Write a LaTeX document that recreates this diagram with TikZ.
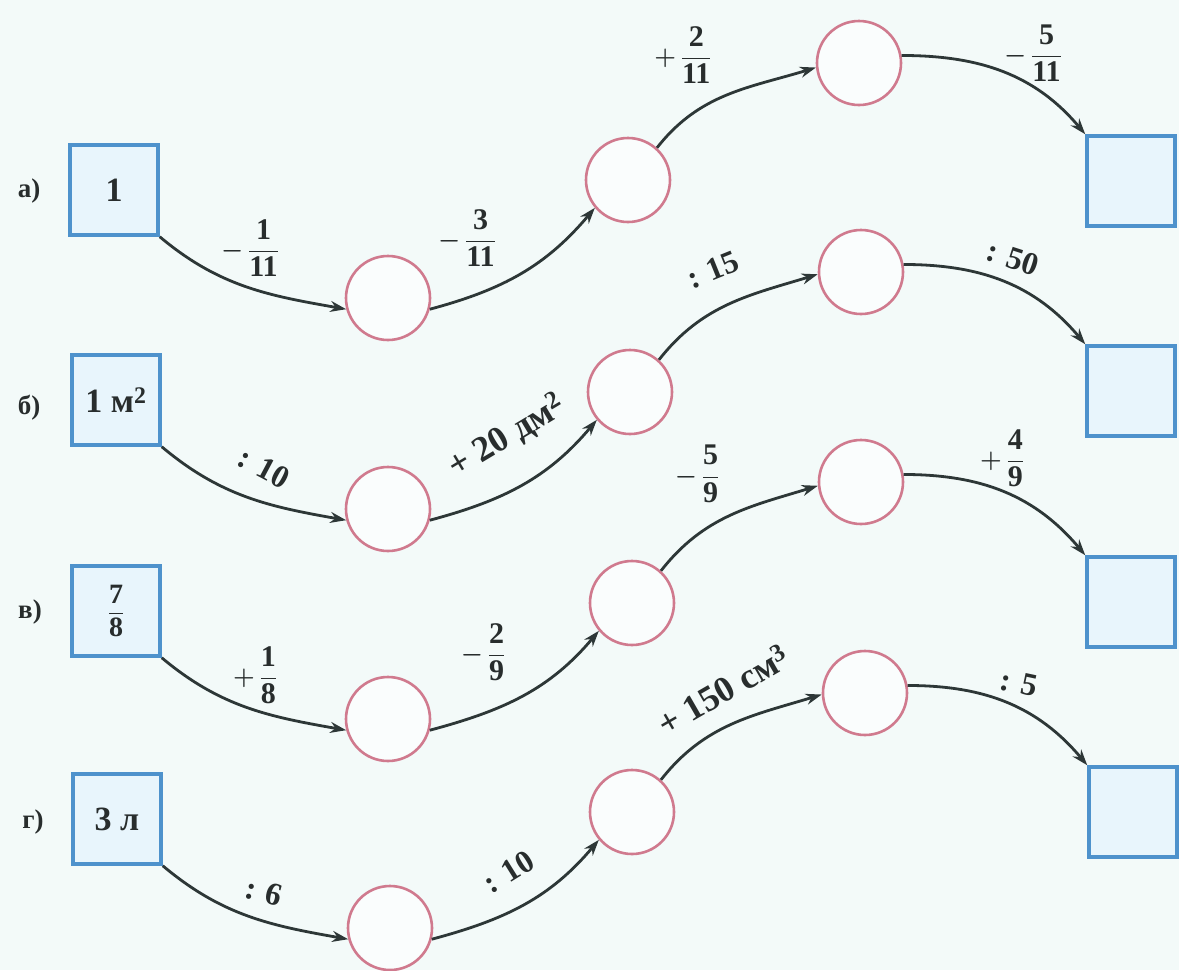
\documentclass[tikz,border=0pt]{standalone}
\usepackage{fontspec}
\setmainfont{Liberation Serif}
\usepackage{amsmath}
\usetikzlibrary{arrows.meta}
\definecolor{bgc}{RGB}{243,250,249}
\definecolor{boxblue}{RGB}{78,146,204}
\definecolor{boxfill}{RGB}{232,245,252}
\definecolor{circpink}{RGB}{208,122,142}
\definecolor{arrowc}{RGB}{45,55,55}
\definecolor{txt}{RGB}{40,45,45}
\begin{document}
\begin{tikzpicture}[x=1pt,y=1pt,
  startbox/.style={draw=boxblue, line width=3.5pt, fill=boxfill, minimum width=88pt, minimum height=90pt, inner sep=0pt, text=txt, font=\bfseries\fontsize{34}{38}\selectfont},
  circ/.style={circle, draw=circpink, line width=2.6pt, fill=white!60!bgc, minimum size=84pt, inner sep=0pt},
  arr/.style={draw=arrowc, line width=2.8pt, -{Stealth[length=16pt,width=11pt]}},
  lab/.style={text=txt, inner sep=1pt, font=\bfseries\fontsize{32}{36}\selectfont},
  biglab/.style={text=txt, inner sep=1pt, font=\bfseries\fontsize{36}{40}\selectfont},
  fraclab/.style={text=txt, inner sep=1pt, font=\boldmath\bfseries\fontsize{30}{34}\selectfont},
  rowlab/.style={text=txt, inner sep=1pt, font=\bfseries\fontsize{27}{30}\selectfont}]
\fill[bgc] (0,0) rectangle (1179,-970);
\useasboundingbox (0,0) rectangle (1179,-970);

% row a
\node[rowlab] (ra) at (29,-191) {а)};
\node[startbox] (a0) at (114,-190) {1};
\node[circ] (a1) at (388,-298) {};
\node[circ] (a2) at (628,-180) {};
\node[circ] (a3) at (859,-63) {};
\node[startbox] (a4) at (1131,-181) {};
\draw[arr] (a0.south east) to[out=-40, in=170] (a1.195);
\draw[arr] (a1.-15) to[out=15, in=230] (a2.220);
\draw[arr] (a2.48) to[out=52, in=197] (a3.186);
\draw[arr] (a3.10) to[out=0, in=130] (a4.north west);
\node[fraclab] (la1) at (250,-248) {$-\,\dfrac{\text{1}}{\text{11}}$};
\node[fraclab] (la2) at (467,-238) {$-\,\dfrac{\text{3}}{\text{11}}$};
\node[fraclab] (la3) at (683,-55) {$+\,\dfrac{\text{2}}{\text{11}}$};
\node[fraclab] (la4) at (1033,-53) {$-\,\dfrac{\text{5}}{\text{11}}$};

% row b
\node[rowlab] (rb) at (29,-408) {б)};
\node[startbox] (b0) at (116,-400) {1 м\textsuperscript{2}};
\node[circ] (b1) at (388,-509) {};
\node[circ] (b2) at (630,-392) {};
\node[circ] (b3) at (861,-272) {};
\node[startbox] (b4) at (1131,-391) {};
\draw[arr] (b0.south east) to[out=-40, in=170] (b1.195);
\draw[arr] (b1.-15) to[out=15, in=230] (b2.220);
\draw[arr] (b2.48) to[out=52, in=197] (b3.183);
\draw[arr] (b3.10) to[out=0, in=130] (b4.north west);
\node[lab, rotate=-28] (lb1) at (264,-468) {: 10};
\node[biglab, rotate=31] (lb2) at (507,-437) {+ 20 дм\textsuperscript{2}};
\node[lab, rotate=22] (lb3) at (713,-270) {: 15};
\node[lab, rotate=-18] (lb4) at (1013,-258) {: 50};

% row c
\node[rowlab] (rc) at (30,-612) {в)};
\node[startbox, font=\bfseries\fontsize{28}{32}\selectfont] (c0) at (116,-611) {$\dfrac{\text{7}}{\text{8}}$};
\node[circ] (c1) at (388,-719) {};
\node[circ] (c2) at (632,-603) {};
\node[circ] (c3) at (861,-482) {};
\node[startbox] (c4) at (1131,-602) {};
\draw[arr] (c0.south east) to[out=-40, in=170] (c1.195);
\draw[arr] (c1.-15) to[out=15, in=230] (c2.220);
\draw[arr] (c2.48) to[out=52, in=197] (c3.185);
\draw[arr] (c3.10) to[out=0, in=130] (c4.north west);
\node[fraclab] (lc1) at (255,-675) {$+\,\dfrac{\text{1}}{\text{8}}$};
\node[fraclab] (lc2) at (483,-652) {$-\,\dfrac{\text{2}}{\text{9}}$};
\node[fraclab] (lc3) at (697,-474) {$-\,\dfrac{\text{5}}{\text{9}}$};
\node[fraclab] (lc4) at (1002,-458) {$+\,\dfrac{\text{4}}{\text{9}}$};

% row d
\node[rowlab] (rd) at (33,-822) {г)};
\node[startbox] (d0) at (117,-819) {3 л};
\node[circ] (d1) at (390,-928) {};
\node[circ] (d2) at (632,-812) {};
\node[circ] (d3) at (865,-693) {};
\node[startbox] (d4) at (1133,-812) {};
\draw[arr] (d0.south east) to[out=-40, in=170] (d1.195);
\draw[arr] (d1.-15) to[out=15, in=230] (d2.220);
\draw[arr] (d2.48) to[out=52, in=197] (d3.182);
\draw[arr] (d3.10) to[out=0, in=130] (d4.north west);
\node[lab, rotate=-15] (ld1) at (264,-892) {: 6};
\node[lab, rotate=32] (ld2) at (509,-872) {: 10};
\node[biglab, rotate=30] (ld3) at (723,-690) {+ 150 см\textsuperscript{3}};
\node[lab, rotate=-12] (ld4) at (1019,-683) {: 5};
\end{tikzpicture}
\end{document}
